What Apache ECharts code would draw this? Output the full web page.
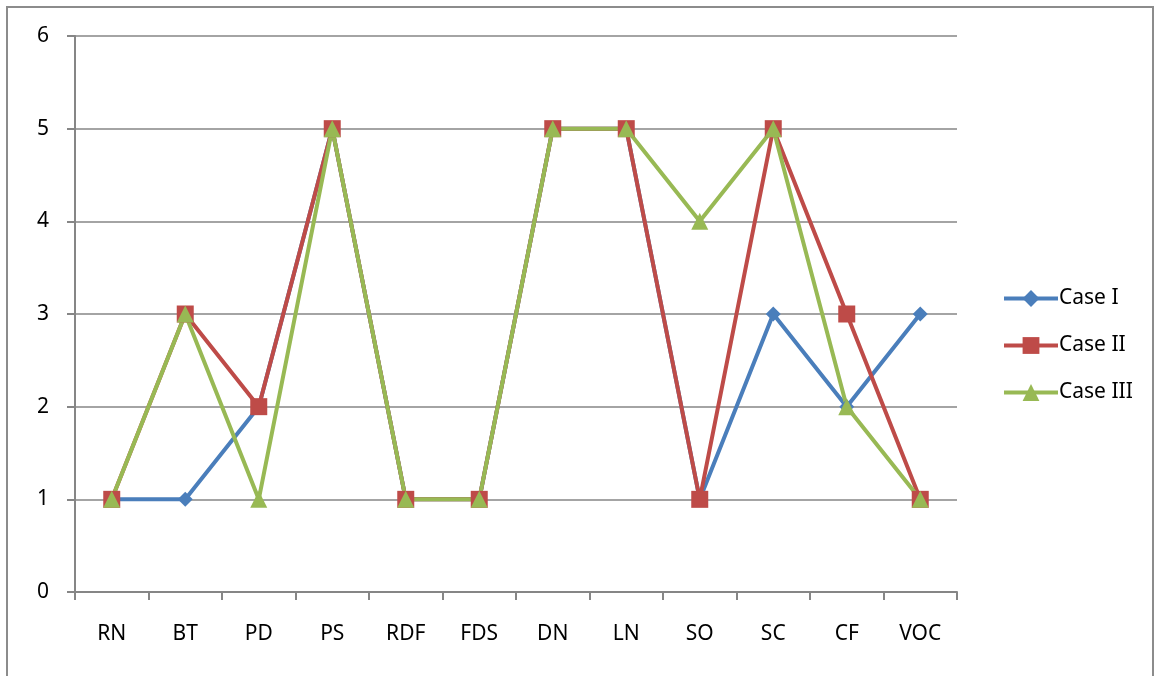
<!DOCTYPE html>
<html>
<head>
<meta charset="utf-8">
<script src="https://cdn.jsdelivr.net/npm/echarts@6/dist/echarts.min.js"></script>
<style>
html,body{margin:0;padding:0;background:#fff;}
#frame{position:absolute;left:6px;top:6px;width:1148px;height:700px;border:2px solid #8c8c8c;box-sizing:border-box;}
#chart{position:absolute;left:0;top:0;width:1158px;height:676px;}
</style>
</head>
<body>
<div id="frame"></div>
<div id="chart"></div>
<script>
const categories = ['RN','BT','PD','PS','RDF','FDS','DN','LN','SO','SC','CF','VOC'];
const caseI   = [1,1,2,5,1,1,5,5,1,3,2,3];
const caseII  = [1,3,2,5,1,1,5,5,1,5,3,1];
const caseIII = [1,3,1,5,1,1,5,5,4,5,2,1];
const yTicks = [0,1,2,3,4,5,6];

const font = '"Noto Sans", "Open Sans", sans-serif';
const axisGray = '#868686';
const chart = echarts.init(document.getElementById('chart'), null, {renderer:'canvas'});
function s(name, data, color, symbol, size){
  return {name, type:'line', data, symbol, symbolSize:size, showSymbol:true,
    lineStyle:{color, width:4}, itemStyle:{color}, z: 2};
}
chart.setOption({
  animation:false,
  backgroundColor:'transparent',
  grid:{left:75, right:201, top:36, bottom:84},
  legend:{
    orient:'vertical', left:997, top:283, itemWidth:54, itemHeight:21, itemGap:26,
    lineStyle:{width:4},
    textStyle:{fontFamily:font, fontSize:21, color:'#000', padding:[0,0,0,-4]},
    data:['Case I','Case II','Case III']
  },
  xAxis:{
    type:'category', data:categories, boundaryGap:true,
    axisLine:{lineStyle:{color:axisGray, width:2}},
    axisTick:{show:true, length:8, interval:0, lineStyle:{color:axisGray, width:2}},
    axisLabel:{fontFamily:font, fontSize:21, color:'#000', margin:32, interval:0},
    splitLine:{show:false}
  },
  yAxis:{
    type:'value', min:yTicks[0], max:yTicks[yTicks.length-1], interval:1,
    axisLine:{show:true, lineStyle:{color:axisGray, width:2}},
    axisTick:{show:true, length:8, lineStyle:{color:axisGray, width:2}},
    axisLabel:{fontFamily:font, fontSize:21, color:'#000', margin:26},
    splitLine:{show:true, lineStyle:{color:axisGray, width:1.5}}
  },
  series:[
    s('Case I', caseI, '#4A7EBB', 'diamond', 15),
    s('Case II', caseII, '#BE4B48', 'rect', 17),
    s('Case III', caseIII, '#98B954', 'triangle', 17)
  ]
});
</script>
</body>
</html>
